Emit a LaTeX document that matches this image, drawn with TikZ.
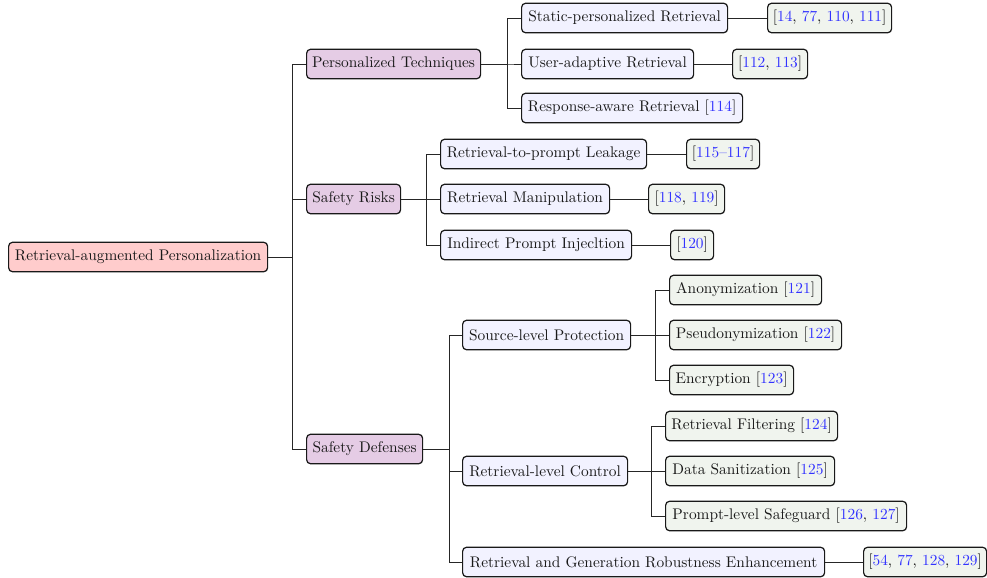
\documentclass[tikz,border=0pt]{standalone}
\usepackage{xcolor}
\definecolor{citeblue}{rgb}{0.2,0.2,1}
\definecolor{rootfill}{rgb}{1,0.8,0.8}
\definecolor{catfill}{rgb}{0.9,0.8,0.9}
\definecolor{subfill}{rgb}{0.95,0.95,1}
\definecolor{leaffill}{rgb}{0.94,0.955,0.935}
\newcommand\cn[1]{\textcolor{citeblue}{#1}}
\begin{document}
\begin{tikzpicture}[x=0.65pt,y=-0.65pt,
  box/.style={draw=black!90,line width=0.8pt,rounded corners=2.6pt,anchor=west,
    minimum height=29.5*0.65pt,inner sep=0pt,text=black!90,font=\normalsize},
  rootbox/.style={box,fill=rootfill},
  catbox/.style={box,fill=catfill},
  subbox/.style={box,fill=subfill},
  leafbox/.style={box,fill=leaffill},
  edge/.style={draw=black!85,line width=0.65pt}]
\useasboundingbox (0,-1) rectangle (987,576);
% root
\node[rootbox,minimum width=259*0.65pt] (root) at (8,256) {Retrieval-augmented Personalization};
% level 1
\node[catbox,minimum width=174*0.65pt] (pt) at (306,63) {Personalized Techniques};
\node[catbox,minimum width=94*0.65pt] (sr) at (306,198) {Safety Risks};
\node[catbox,minimum width=116*0.65pt] (sd) at (306,448) {Safety Defenses};
% personalized techniques
\node[subbox,minimum width=206*0.65pt] (spr) at (521,17) {Static-personalized Retrieval};
\node[subbox,minimum width=172*0.65pt] (uar) at (521,63) {User-adaptive Retrieval};
\node[subbox,minimum width=221*0.65pt] (rar) at (521,107) {Response-aware Retrieval [\cn{114}]};
\node[leafbox,minimum width=124*0.65pt] (c1) at (767,17) {[\cn{14}, \cn{77}, \cn{110}, \cn{111}]};
\node[leafbox,minimum width=75*0.65pt] (c2) at (732,63) {[\cn{112}, \cn{113}]};
% safety risks
\node[subbox,minimum width=206*0.65pt] (rpl) at (440,153) {Retrieval-to-prompt Leakage};
\node[subbox,minimum width=169*0.65pt] (rm) at (440,198) {Retrieval Manipulation};
\node[subbox,minimum width=191*0.65pt] (ipi) at (440,244) {Indirect Prompt Injecltion};
\node[leafbox,minimum width=73*0.65pt] (c3) at (686,153) {[\cn{115--117}]};
\node[leafbox,minimum width=76*0.65pt] (c4) at (648,198) {[\cn{118}, \cn{119}]};
\node[leafbox,minimum width=43*0.65pt] (c5) at (670,244) {[\cn{120}]};
% safety defenses
\node[subbox,minimum width=168*0.65pt] (slp) at (462,334) {Source-level Protection};
\node[subbox,minimum width=165*0.65pt] (rlc) at (462,470) {Retrieval-level Control};
\node[subbox,minimum width=362*0.65pt] (rgr) at (462,561) {Retrieval and Generation Robustness Enhancement};
\node[leafbox,minimum width=152*0.65pt] (an) at (669,289) {Anonymization [\cn{121}]};
\node[leafbox,minimum width=172*0.65pt] (ps) at (669,334) {Pseudonymization [\cn{122}]};
\node[leafbox,minimum width=124*0.65pt] (en) at (669,379) {Encryption [\cn{123}]};
\node[leafbox,minimum width=172*0.65pt] (rf) at (665,425) {Retrieval Filtering [\cn{124}]};
\node[leafbox,minimum width=169*0.65pt] (ds) at (665,470) {Data Sanitization [\cn{125}]};
\node[leafbox,minimum width=241*0.65pt] (pls) at (665,515) {Prompt-level Safeguard [\cn{126}, \cn{127}]};
\node[leafbox,minimum width=123*0.65pt] (c6) at (863,561) {[\cn{54}, \cn{77}, \cn{128}, \cn{129}]};
% edges
\foreach \c in {pt,sr,sd} \draw[edge] (root.east) -- ++(24,0) |- (\c.west);
\foreach \c in {spr,uar,rar} \draw[edge] (pt.east) -- ++(26,0) |- (\c.west);
\foreach \c in {rpl,rm,ipi} \draw[edge] (sr.east) -- ++(25,0) |- (\c.west);
\foreach \c in {slp,rlc,rgr} \draw[edge] (sd.east) -- ++(26,0) |- (\c.west);
\foreach \c in {an,ps,en} \draw[edge] (slp.east) -- ++(24,0) |- (\c.west);
\foreach \c in {rf,ds,pls} \draw[edge] (rlc.east) -- ++(23,0) |- (\c.west);
\draw[edge] (spr) -- (c1);
\draw[edge] (uar) -- (c2);
\draw[edge] (rpl) -- (c3);
\draw[edge] (rm) -- (c4);
\draw[edge] (ipi) -- (c5);
\draw[edge] (rgr) -- (c6);
\end{tikzpicture}
\end{document}
